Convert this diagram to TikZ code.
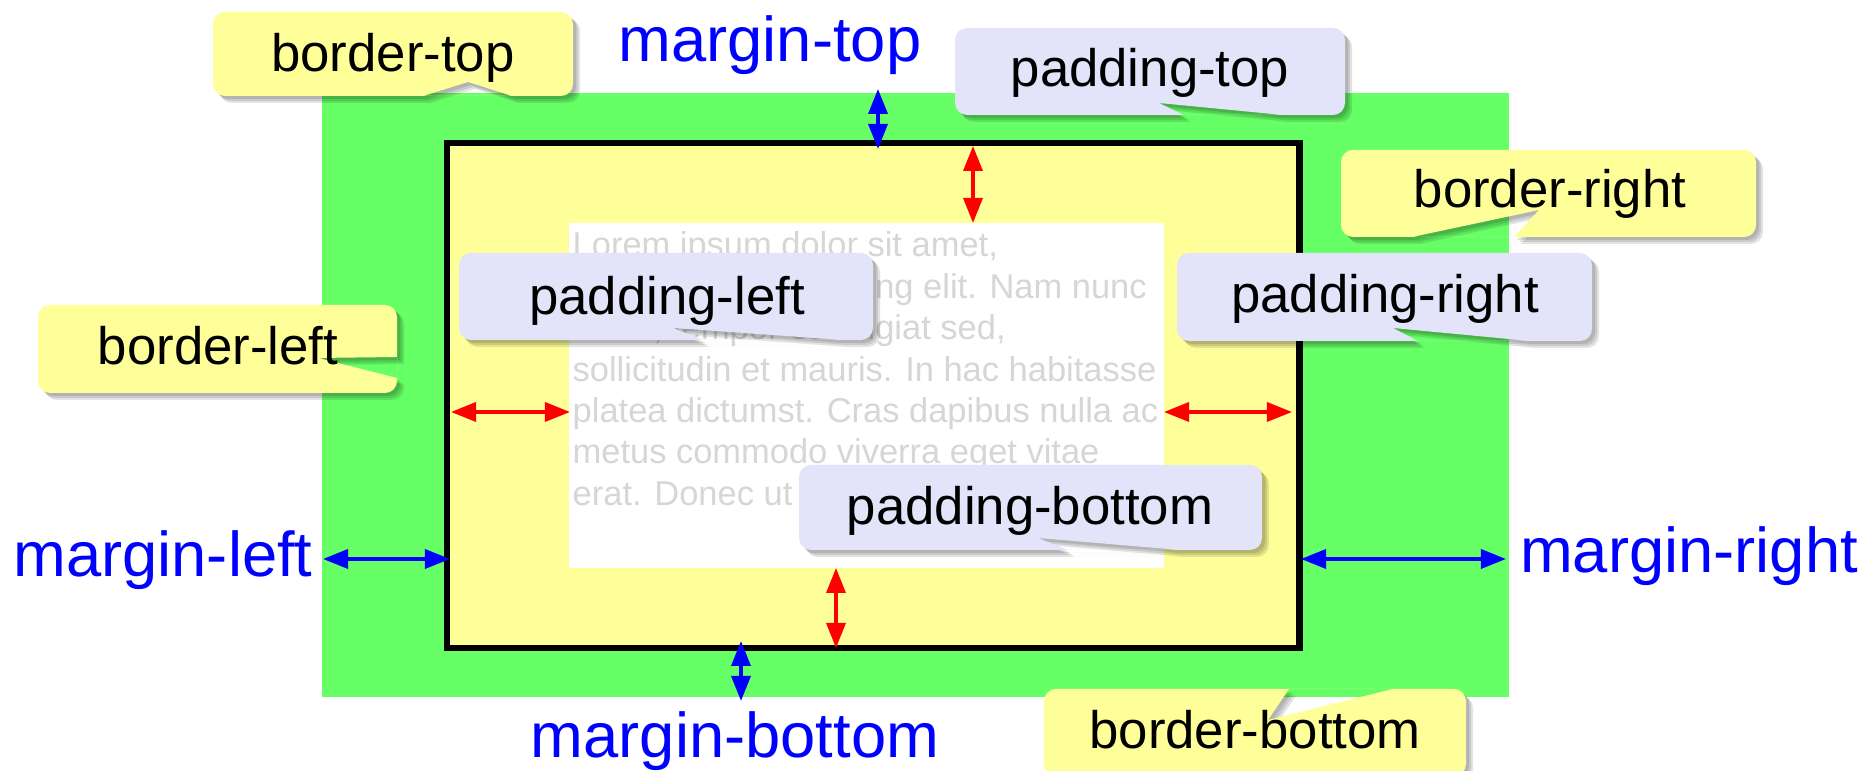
\documentclass[tikz,border=0pt]{standalone}
\usepackage{fontspec}
\setmainfont{Liberation Sans}
\usetikzlibrary{arrows.meta}
\definecolor{mgreen}{RGB}{102,255,102}
\definecolor{byellow}{RGB}{255,255,153}
\definecolor{plav}{RGB}{227,227,250}
\definecolor{loremgray}{RGB}{214,214,214}
\tikzset{
  ctext/.style={font=\fontsize{15}{18}\selectfont, inner sep=0pt, anchor=base, text=black},
  mtext/.style={font=\fontsize{18}{21}\selectfont, inner sep=0pt, anchor=base, text=blue},
  ltext/.style={font=\fontsize{9.8}{11.8}\selectfont, inner sep=0pt, anchor=base west, text=loremgray},
  dimarrow/.style={line width=0.035cm, {Triangle[length=0.25cm,width=0.19cm]}-{Triangle[length=0.25cm,width=0.19cm]}},
  marr/.style={dimarrow, blue},
  parr/.style={dimarrow, red},
}
% #1 name, #2 colour, #3 nw corner, #4 se corner, #5 notch, #6 text baseline, #7 text
\newcommand\mycallout[7]{%
  \foreach \s in {3,5,7}{%
    \fill[black, opacity=0.11, even odd rule, shift={(\s,\s)}] [rounded corners=0.12cm] (#3) rectangle (#4) [sharp corners] #5 -- cycle;}
  \fill[#2, even odd rule] [rounded corners=0.12cm] (#3) rectangle (#4) [sharp corners] #5 -- cycle;
  \node[ctext] (#1) at (#6) {#7};
}
\begin{document}
\begin{tikzpicture}[x=0.01cm,y=-0.01cm]
\useasboundingbox (0,0) rectangle (1868,771);
\fill[white] (0,0) rectangle (1868,771);

% boxes
\node[fill=mgreen, draw=none, inner sep=0pt, outer sep=0pt, anchor=north west,
      minimum width=11.86cm, minimum height=6.04cm] (marginbox) at (322,93) {};
\node[fill=byellow, draw=black, line width=0.06cm, inner sep=0pt, outer sep=0pt, anchor=north west,
      minimum width=8.52cm, minimum height=5.05cm] (borderbox) at (447,143) {};
\node[fill=white, draw=none, inner sep=0pt, outer sep=0pt, anchor=north west,
      minimum width=5.95cm, minimum height=3.45cm] (contentbox) at (569,223) {};

% lorem text
\node[ltext] (lorem1) at (572,257) {Lorem ipsum dolor sit amet,};
\node[ltext] (lorem2) at (572,298.4) {consectetur adipiscing elit. Nam nunc};
\node[ltext] (lorem3) at (572,339.8) {lacus, tempor et feugiat sed,};
\node[ltext] (lorem4) at (572,381.2) {sollicitudin et mauris. In hac habitasse};
\node[ltext] (lorem5) at (572,422.6) {platea dictumst. Cras dapibus nulla ac};
\node[ltext] (lorem6) at (572,464) {metus commodo viverra eget vitae};
\node[ltext] (lorem7) at (572,505.4) {erat. Donec ut risus.};

% arrow end points
\coordinate (mt1) at (878,89);   \coordinate (mt2) at (878,149);
\coordinate (pt1) at (973,146);  \coordinate (pt2) at (973,223);
\coordinate (pl1) at (451,412);  \coordinate (pl2) at (570,412);
\coordinate (pr1) at (1164,412); \coordinate (pr2) at (1292,412);
\coordinate (ml1) at (323,559);  \coordinate (ml2) at (450,559);
\coordinate (mr1) at (1301,559); \coordinate (mr2) at (1506,559);
\coordinate (mb1) at (741,641);  \coordinate (mb2) at (741,701);
\coordinate (pb1) at (836,568);  \coordinate (pb2) at (836,648);

\draw[marr] (mt1) -- (mt2);
\draw[parr] (pt1) -- (pt2);
\draw[parr] (pl1) -- (pl2);
\draw[parr] (pr1) -- (pr2);
\draw[marr] (ml1) -- (ml2);
\draw[marr] (mr1) -- (mr2);
\draw[marr] (mb1) -- (mb2);
\draw[parr] (pb1) -- (pb2);

% margin labels
\node[mtext] (lmt) at (770,62) {margin-top};
\node[mtext] (lml) at (163,577) {margin-left};
\node[mtext] (lmr) at (1689,573) {margin-right};
\node[mtext] (lmb) at (735,758) {margin-bottom};

% callouts
\mycallout{cbt}{byellow}{213,12}{573,96}{(423,96) -- (468,82) -- (512,96)}{393,72}{border-top}
\mycallout{cpt}{plav}{955,28}{1345,115}{(1184,115) -- (1159,103) -- (1283,115)}{1150,87}{padding-top}
\mycallout{cbr}{byellow}{1341,150}{1756,237}{(1412,237) -- (1539,210) -- (1514,237)}{1550,208}{border-right}
\mycallout{cbl}{byellow}{38,305}{397,393}{(397,357) -- (318,358) -- (397,378)}{218,365}{border-left}
\mycallout{cpl}{plav}{459,253}{873,340}{(703,340) -- (673,328) -- (843,340)}{667,315}{padding-left}
\mycallout{cpr}{plav}{1177,253}{1592,341}{(1418,341) -- (1393,328) -- (1530,341)}{1385,313}{padding-right}
\mycallout{cpb}{plav}{799,465}{1262,550}{(1068,550) -- (1038,538) -- (1180,550)}{1030,525}{padding-bottom}
\mycallout{cbb}{byellow}{1044,689}{1466,776}{(1289,689) -- (1268,720) -- (1393,689)}{1255,749}{border-bottom}
\end{tikzpicture}
\end{document}
